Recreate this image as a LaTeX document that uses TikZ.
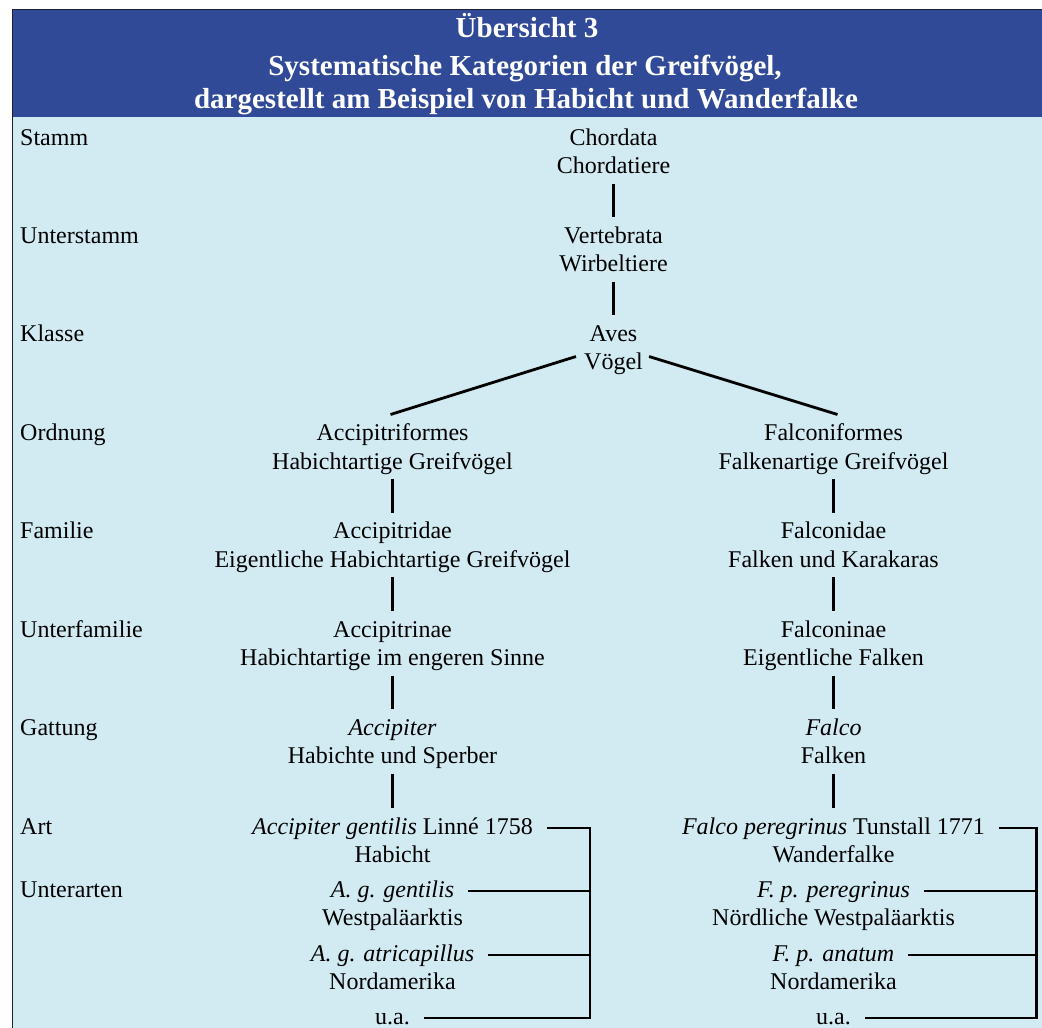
\documentclass[tikz,border=0pt]{standalone}
\usepackage{fontspec}
\setmainfont{Liberation Serif}
\usetikzlibrary{calc}
\definecolor{hdrblue}{RGB}{49,74,152}
\definecolor{bodyblue}{RGB}{210,234,242}
\definecolor{framecol}{RGB}{30,32,48}
\begin{document}
\begin{tikzpicture}[x=1pt,y=-1pt,
  lbl/.style={anchor=base west,inner sep=0pt,font=\fontsize{24}{28.5}\selectfont},
  txt/.style={anchor=base,inner sep=0pt,font=\fontsize{24}{28.5}\selectfont},
  hdr/.style={anchor=base,inner sep=0pt,text=white,font=\fontsize{29}{34}\selectfont\bfseries},
  conn/.style={line width=2.8pt}]
\useasboundingbox (0,0) rectangle (1042,1028);
\fill[bodyblue] (12,10) rectangle (1042,1028);
\fill[hdrblue] (12,10) rectangle (1042,117);
\draw[framecol,line width=1.2pt] (12.6,1028) -- (12.6,9.6) -- (1042,9.6);
% header
\node[hdr] (h1) at (527,37) {Übersicht 3};
\node[hdr] (h2) at (525,75) {Systematische Kategorien der Greifvögel,};
\node[hdr] (h3) at (526,108) {dargestellt am Beispiel von Habicht und Wanderfalke};
% left labels
\node[lbl] (l1) at (20,145) {Stamm};
\node[lbl] (l2) at (20,243) {Unterstamm};
\node[lbl] (l3) at (20,341) {Klasse};
\node[lbl] (l4) at (20,440.5) {Ordnung};
\node[lbl] (l5) at (20,538.5) {Familie};
\node[lbl] (l6) at (20,637) {Unterfamilie};
\node[lbl] (l7) at (20,735) {Gattung};
\node[lbl] (l8) at (20,834) {Art};
\node[lbl] (l9) at (20,897) {Unterarten};
% middle
\node[txt] (chorA) at (613.5,145) {Chordata};
\node[txt] (chorB) at (613.5,173.5) {Chordatiere};
\node[txt] (vertA) at (613.5,243) {Vertebrata};
\node[txt] (vertB) at (613.5,271.5) {Wirbeltiere};
\node[txt] (avesA) at (613.5,341) {Aves};
\node[txt] (avesB) at (613.5,369.5) {Vögel};
% left column
\node[txt] (accfA) at (392.5,440.5) {Accipitriformes};
\node[txt] (accfB) at (392.5,469) {Habichtartige Greifvögel};
\node[txt] (accdA) at (392.5,538.5) {Accipitridae};
\node[txt] (accdB) at (392.5,567) {Eigentliche Habichtartige Greifvögel};
\node[txt] (accnA) at (392.5,637) {Accipitrinae};
\node[txt] (accnB) at (392.5,665.5) {Habichtartige im engeren Sinne};
\node[txt] (accgA) at (392.5,735) {\itshape Accipiter};
\node[txt] (accgB) at (392.5,763.5) {Habichte und Sperber};
\node[txt] (accsA) at (392.5,834) {\textit{Accipiter gentilis} Linné 1758};
\node[txt] (accsB) at (392.5,862.5) {Habicht};
\node[txt] (agA) at (392.5,897) {\itshape A. g. gentilis};
\node[txt] (agB) at (392.5,925.5) {Westpaläarktis};
\node[txt] (aaA) at (392.5,961) {\itshape A. g. atricapillus};
\node[txt] (aaB) at (392.5,989.5) {Nordamerika};
\node[txt] (auA) at (392.5,1024) {u.a.};
% right column
\node[txt] (falfA) at (833.5,440.5) {Falconiformes};
\node[txt] (falfB) at (833.5,469) {Falkenartige Greifvögel};
\node[txt] (faldA) at (833.5,538.5) {Falconidae};
\node[txt] (faldB) at (833.5,567) {Falken und Karakaras};
\node[txt] (falnA) at (833.5,637) {Falconinae};
\node[txt] (falnB) at (833.5,665.5) {Eigentliche Falken};
\node[txt] (falgA) at (833.5,735) {\itshape Falco};
\node[txt] (falgB) at (833.5,763.5) {Falken};
\node[txt] (falsA) at (833.5,834) {\textit{Falco peregrinus} Tunstall 1771};
\node[txt] (falsB) at (833.5,862.5) {Wanderfalke};
\node[txt] (fpA) at (833.5,897) {\itshape F. p. peregrinus};
\node[txt] (fpB) at (833.5,925.5) {Nördliche Westpaläarktis};
\node[txt] (faA) at (833.5,961) {\itshape F. p. anatum};
\node[txt] (faB) at (833.5,989.5) {Nordamerika};
\node[txt] (fuA) at (833.5,1024) {u.a.};
% vertical connectors
\draw[conn] ([yshift=-10pt]chorB.base) -- ([yshift=26pt]vertA.base);
\draw[conn] ([yshift=-10pt]vertB.base) -- ([yshift=26pt]avesA.base);
\draw[conn] ([yshift=-10pt]accfB.base) -- ([yshift=26pt]accdA.base);
\draw[conn] ([yshift=-10pt]accdB.base) -- ([yshift=26pt]accnA.base);
\draw[conn] ([yshift=-10pt]accnB.base) -- ([yshift=26pt]accgA.base);
\draw[conn] ([yshift=-10pt]accgB.base) -- ([yshift=26pt]accsA.base);
\draw[conn] ([yshift=-10pt]falfB.base) -- ([yshift=26pt]faldA.base);
\draw[conn] ([yshift=-10pt]faldB.base) -- ([yshift=26pt]falnA.base);
\draw[conn] ([yshift=-10pt]falnB.base) -- ([yshift=26pt]falgA.base);
\draw[conn] ([yshift=-10pt]falgB.base) -- ([yshift=26pt]falsA.base);
% diagonals
\draw[conn] ([shift={(-8pt,13pt)}]avesB.base west) -- ([shift={(-2pt,26pt)}]accfA.base);
\draw[conn] ([shift={(6pt,13pt)}]avesB.base east) -- ([shift={(4pt,26pt)}]falfA.base);
% brackets
\coordinate (brL) at (590,0);
\coordinate (brR) at (1036.5,0);
\path ([shift={(14pt,6pt)}]accsA.base east) coordinate (p1)
      ([shift={(14pt,6pt)}]agA.base east) coordinate (p2)
      ([shift={(14pt,6pt)}]aaA.base east) coordinate (p3)
      ([shift={(14pt,6pt)}]auA.base east) coordinate (p4)
      ([shift={(14pt,6pt)}]falsA.base east) coordinate (q1)
      ([shift={(14pt,6pt)}]fpA.base east) coordinate (q2)
      ([shift={(14pt,6pt)}]faA.base east) coordinate (q3)
      ([shift={(14pt,6pt)}]fuA.base east) coordinate (q4);
\draw[conn] (p1) -- (p1 -| brL) -- (p4 -| brL) -- (p4);
\draw[conn] (p2) -- (p2 -| brL);
\draw[conn] (p3) -- (p3 -| brL);
\draw[conn] (q1) -- (q1 -| brR) -- (q4 -| brR) -- (q4);
\draw[conn] (q2) -- (q2 -| brR);
\draw[conn] (q3) -- (q3 -| brR);
\end{tikzpicture}
\end{document}
